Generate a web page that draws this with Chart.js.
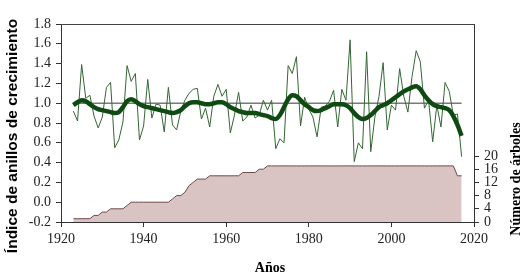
<!DOCTYPE html>
<html lang="es">
<head>
<meta charset="UTF-8">
<title>Índice de anillos de crecimiento</title>
<script src="https://cdn.jsdelivr.net/npm/chart.js@4"></script>
<style>
    html, body { margin: 0; padding: 0; background: #fff; }
</style>
</head>
<body>
<canvas id="ringChart" width="527" height="279"></canvas>
<script>
// series run year by year from 1923 to 2017
var firstYear = 1923;

var ringIndex = [
    0.92, 0.82, 1.39, 1.05, 1.08, 0.87, 0.75, 0.86, 1.16, 1.21,
    0.55, 0.63, 0.81, 1.38, 1.22, 1.30, 0.63, 0.77, 1.24, 0.85,
    0.99, 0.98, 0.71, 1.16, 0.78, 0.73, 0.92, 1.03, 1.10, 1.14,
    1.15, 0.84, 0.95, 0.76, 1.07, 1.19, 1.07, 1.14, 0.70, 0.88,
    1.11, 0.82, 0.86, 0.98, 0.85, 0.88, 1.03, 0.93, 1.03, 0.54,
    0.64, 0.60, 1.38, 1.30, 1.47, 0.77, 1.06, 0.94, 0.86, 0.66,
    0.96, 0.97, 1.02, 1.13, 0.76, 1.14, 1.03, 1.64, 0.41, 0.60,
    0.54, 1.52, 0.51, 0.86, 1.07, 1.41, 0.73, 0.98, 0.93, 1.35,
    1.07, 0.91, 1.27, 1.53, 1.42, 0.95, 1.03, 0.61, 0.98, 0.76,
    1.21, 1.12, 0.88, 0.89, 0.46
];

var smoothIndex = [
    0.98, 1.01, 1.03, 1.02, 0.99, 0.96, 0.94, 0.93, 0.92, 0.91,
    0.90, 0.91, 0.96, 1.02, 1.04, 1.02, 0.99, 0.97, 0.96, 0.95,
    0.94, 0.93, 0.92, 0.91, 0.90, 0.91, 0.93, 0.97, 1.00, 1.01,
    1.01, 1.00, 0.99, 0.99, 1.00, 1.01, 1.01, 0.99, 0.96, 0.94,
    0.92, 0.91, 0.90, 0.90, 0.90, 0.89, 0.88, 0.87, 0.85, 0.84,
    0.88, 0.96, 1.04, 1.08, 1.07, 1.03, 0.99, 0.96, 0.93, 0.92,
    0.93, 0.95, 0.97, 0.99, 0.99, 0.99, 0.98, 0.95, 0.90, 0.86,
    0.84, 0.85, 0.88, 0.92, 0.96, 0.98, 1.00, 1.03, 1.06, 1.09,
    1.12, 1.14, 1.16, 1.17, 1.14, 1.08, 1.03, 0.99, 0.97, 0.96,
    0.95, 0.93, 0.87, 0.78, 0.67
];

var treeCount = [
    1, 1, 1, 1, 1, 2, 2, 3, 3, 4,
    4, 4, 4, 5, 6, 6, 6, 6, 6, 6,
    6, 6, 6, 6, 7, 8, 8, 9, 11, 12,
    13, 13, 13, 14, 14, 14, 14, 14, 14, 14,
    14, 15, 15, 15, 15, 16, 16, 17, 17, 17,
    17, 17, 17, 17, 17, 17, 17, 17, 17, 17,
    17, 17, 17, 17, 17, 17, 17, 17, 17, 17,
    17, 17, 17, 17, 17, 17, 17, 17, 17, 17,
    17, 17, 17, 17, 17, 17, 17, 17, 17, 17,
    17, 17, 17, 14, 14
];

var refLevel = 1.0;
var xTicks = [1920, 1940, 1960, 1980, 2000, 2020];
var leftTicks = [-0.2, 0.0, 0.2, 0.4, 0.6, 0.8, 1.0, 1.2, 1.4, 1.6, 1.8];
var rightTicks = [0, 4, 8, 12, 16, 20];

var years = ringIndex.map(function (v, i) { return firstYear + i; });

function toPoints(values) {
    return values.map(function (v, i) { return { x: years[i], y: v }; });
}

var serif = "'Liberation Serif', 'Times New Roman', serif";
var sans = "'Liberation Sans', Arial, sans-serif";

// box round the plot and the three axis titles
var framePlugin = {
    id: 'frame',
    afterDraw: function (chart) {
        var ctx = chart.ctx;
        var a = chart.chartArea;
        ctx.save();
        ctx.strokeStyle = '#444';
        ctx.lineWidth = 1;
        ctx.beginPath();
        ctx.moveTo(a.left, Math.round(a.top) + 0.5);
        ctx.lineTo(a.right, Math.round(a.top) + 0.5);
        ctx.stroke();

        ctx.fillStyle = '#000';
        ctx.textAlign = 'center';
        ctx.textBaseline = 'middle';

        ctx.font = 'bold 14px ' + serif;
        ctx.fillText('Años', 270, 268);

        ctx.save();
        ctx.translate(13, 136);
        ctx.rotate(-Math.PI / 2);
        ctx.font = 'bold 15.5px ' + sans;
        ctx.fillText('Índice de anillos de crecimiento', 0, 0);
        ctx.restore();

        ctx.save();
        ctx.translate(516, 179);
        ctx.rotate(-Math.PI / 2);
        ctx.font = 'bold 14px ' + serif;
        ctx.fillText('Número de árboles', 0, 0);
        ctx.restore();

        ctx.restore();
    }
};

function setTicks(list) {
    return function (scale) {
        scale.ticks = list.map(function (v) { return { value: v }; });
    };
}

var ctx = document.getElementById('ringChart').getContext('2d');
var ringChart = new Chart(ctx, {
    type: 'line',
    data: {
        datasets: [
            {
                data: toPoints(smoothIndex),
                borderColor: '#0f4a12',
                borderWidth: 4.5,
                pointRadius: 0,
                cubicInterpolationMode: 'monotone',
                fill: false,
                yAxisID: 'y'
            },
            {
                data: toPoints(ringIndex),
                borderColor: '#336634',
                borderWidth: 1,
                pointRadius: 0,
                tension: 0,
                fill: false,
                yAxisID: 'y'
            },
            {
                data: [{ x: years[0], y: refLevel }, { x: years[years.length - 1], y: refLevel }],
                borderColor: '#7a7a7a',
                borderWidth: 1.5,
                pointRadius: 0,
                fill: false,
                yAxisID: 'y'
            },
            {
                data: toPoints(treeCount),
                borderColor: '#6e4a4a',
                borderWidth: 1,
                backgroundColor: '#d9c3c3',
                pointRadius: 0,
                tension: 0,
                fill: 'origin',
                yAxisID: 'y2'
            }
        ]
    },
    options: {
        responsive: false,
        animation: false,
        layout: { padding: { top: 24, left: 0, right: 0, bottom: 0 } },
        plugins: {
            legend: { display: false },
            tooltip: { enabled: false }
        },
        scales: {
            x: {
                type: 'linear',
                min: 1920,
                max: 2020,
                afterBuildTicks: setTicks(xTicks),
                afterFit: function (scale) { scale.height = 57; },
                border: { color: '#333', width: 1 },
                grid: { drawOnChartArea: false, drawTicks: true, tickLength: 5, color: '#333' },
                ticks: {
                    color: '#222',
                    padding: 4,
                    maxRotation: 0,
                    font: { family: serif, size: 14 },
                    callback: function (v) { return String(v); }
                }
            },
            y: {
                position: 'left',
                min: -0.2,
                max: 1.8,
                afterBuildTicks: setTicks(leftTicks),
                afterFit: function (scale) { scale.width = 61; },
                border: { color: '#333', width: 1 },
                grid: { drawOnChartArea: false, drawTicks: true, tickLength: 5, color: '#333' },
                ticks: {
                    color: '#222',
                    padding: 5,
                    font: { family: serif, size: 14 },
                    callback: function (v) { return Number(v).toFixed(1); }
                }
            },
            y2: {
                position: 'right',
                min: 0,
                max: 60,
                afterBuildTicks: setTicks(rightTicks),
                afterFit: function (scale) { scale.width = 53; },
                border: { color: '#333', width: 1 },
                grid: { drawOnChartArea: false, drawTicks: true, tickLength: 5, color: '#333' },
                ticks: {
                    color: '#222',
                    padding: 5,
                    font: { family: serif, size: 14 },
                    callback: function (v) { return String(v); }
                }
            }
        }
    },
    plugins: [framePlugin]
});
</script>
</body>
</html>
